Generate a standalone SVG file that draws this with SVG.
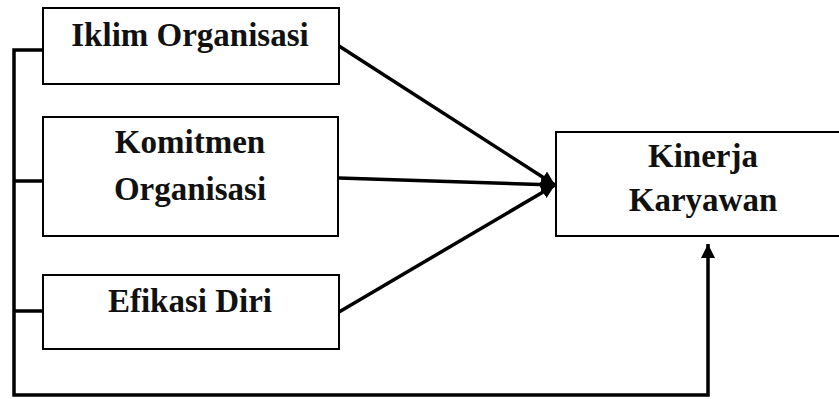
<svg xmlns="http://www.w3.org/2000/svg" width="839" height="399" viewBox="0 0 839 399">
<style>
.box{fill:#fff;stroke:#000;stroke-width:2}
.lbl{font-family:"Liberation Serif","Times New Roman",serif;font-weight:bold;font-size:33px;fill:#111;text-anchor:middle}
.ln{fill:none;stroke:#000;stroke-width:3.5}
</style>
<defs>
<marker id="ah" markerUnits="userSpaceOnUse" markerWidth="16" markerHeight="14" refX="14" refY="7" orient="auto">
<path d="M0,0 L14,7 L0,14 Z" fill="#000"/>
</marker>
</defs>
<g id="connectors">
<path class="ln" d="M43,50 H14 V395 H708 V244" marker-end="url(#ah)"/>
<path class="ln" d="M14,181 H43"/>
<path class="ln" d="M14,311 H43"/>
<path class="ln" d="M339,46 L555,185" marker-end="url(#ah)"/>
<path class="ln" d="M339,178 L555,185" marker-end="url(#ah)"/>
<path class="ln" d="M339,312 L555,185" marker-end="url(#ah)"/>
</g>
<g id="iklim">
<rect class="box" x="43" y="8" width="296" height="76"/>
<text class="lbl" x="190" y="46">Iklim Organisasi</text>
</g>
<g id="komitmen">
<rect class="box" x="43" y="117" width="295" height="119"/>
<text class="lbl" x="190" y="153">Komitmen</text>
<text class="lbl" x="190" y="200">Organisasi</text>
</g>
<g id="efikasi">
<rect class="box" x="43" y="275" width="296" height="74"/>
<text class="lbl" x="190" y="312">Efikasi Diri</text>
</g>
<g id="kinerja">
<rect class="box" x="556" y="132" width="300" height="104"/>
<text class="lbl" x="703" y="167">Kinerja</text>
<text class="lbl" x="703" y="211">Karyawan</text>
</g>
</svg>
